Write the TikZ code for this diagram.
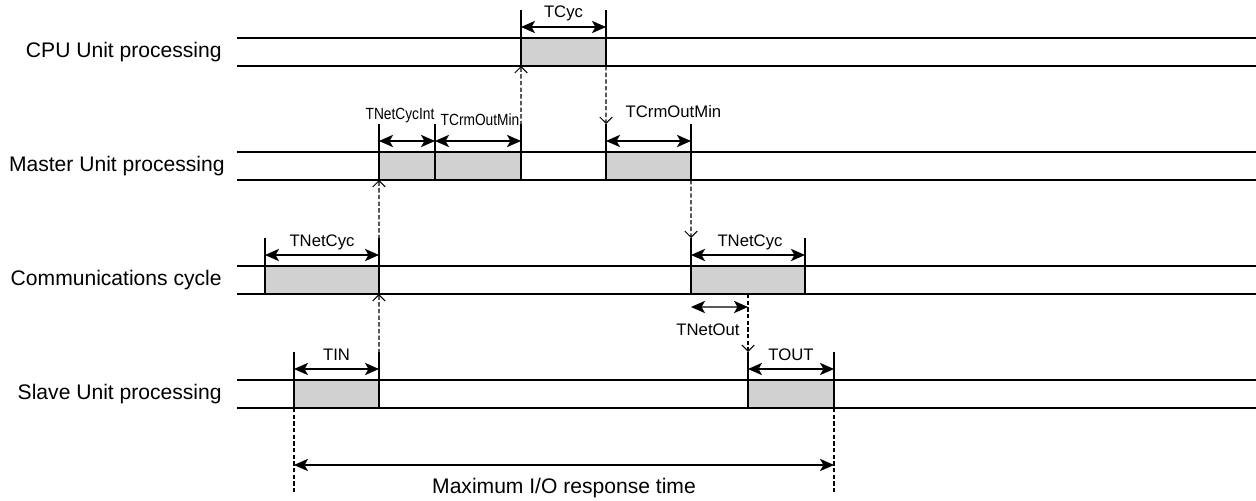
\documentclass[tikz,border=0pt]{standalone}
\usepackage{fontspec}
\setmainfont{Liberation Sans}
\usetikzlibrary{arrows.meta,positioning,calc}

\begin{document}
\begin{tikzpicture}[x=0.02cm,y=-0.02cm,>=Stealth,
    rowline/.style={line width=0.8pt},
    blk/.style={draw,line width=0.7pt,fill=black!18,inner sep=0pt,outer sep=0pt,
      minimum height=0.56cm,anchor=north west},
    tick/.style={line width=0.7pt},
    dim/.style={{Stealth[length=8pt,width=7pt,inset=2pt]}-{Stealth[length=8pt,width=7pt,inset=2pt]},line width=0.8pt},
    sig/.style={dash pattern=on 2.5pt off 1.3pt,line width=0.6pt,-{Straight Barb[length=3.5pt,width=7pt]}},
    vline/.style={dash pattern=on 2.5pt off 1.3pt,line width=0.6pt},
    rowlbl/.style={font=\fontsize{12}{14}\selectfont,anchor=east,inner sep=0pt},
    dlbl/.style={font=\fontsize{9.5}{11}\selectfont},
    slbl/.style={font=\fontsize{9.2}{10}\selectfont,xscale=0.85}]
    \useasboundingbox (0,0) rectangle (1256,500);

    % rows
    \foreach \y in {38,152,266,380} {
      \draw[rowline] (237,\y) -- (1256,\y);
      \draw[rowline] (237,\y+28) -- (1256,\y+28);
    }
    \node[rowlbl] (rcpu) at (222,52) {CPU Unit processing};
    \node[rowlbl] (rmst) at (225,166) {Master Unit processing};
    \node[rowlbl] (rcom) at (222,280) {Communications cycle};
    \node[rowlbl] (rslv) at (222,394) {Slave Unit processing};

    % processing blocks
    \node[blk,minimum width=1.7cm] (cpu) at (521,38) {};
    \node[blk,minimum width=1.12cm] (mint) at (379,152) {};
    \node[blk,minimum width=1.72cm] (mout) at (435,152) {};
    \node[blk,minimum width=1.7cm] (mcrm) at (606,152) {};
    \node[blk,minimum width=2.28cm] (cin) at (265,266) {};
    \node[blk,minimum width=2.28cm] (cout) at (691,266) {};
    \node[blk,minimum width=1.7cm] (sin) at (294,380) {};
    \node[blk,minimum width=1.72cm] (sout) at (748,380) {};

    % dimension marks above each block
    \foreach \b in {cpu,mint,mout,mcrm,cin,cout,sin,sout} {
      \draw[tick] (\b.north west) -- ++(0,-28);
      \draw[tick] (\b.north east) -- ++(0,-28);
      \draw[dim] ($(\b.north west)+(0,-11)$) -- ($(\b.north east)+(0,-11)$);
    }
    \node[dlbl] (tcyc) at ($(cpu.north)+(0,-25)$) {TCyc};
    \node[slbl] (tnci) at ($(mint.north)+(-7,-36)$) {TNetCycInt};
    \node[slbl] (tcrm1) at ($(mout.north)+(2,-32)$) {TCrmOutMin};
    \node[dlbl] (tcrm2) at ($(mcrm.north)+(25,-40)$) {TCrmOutMin};
    \node[dlbl] (tnc1) at ($(cin.north)+(0,-24)$) {TNetCyc};
    \node[dlbl] (tnc2) at ($(cout.north)+(2,-24)$) {TNetCyc};
    \node[dlbl] (tin) at ($(sin.north)+(0,-25)$) {TIN};
    \node[dlbl] (tout) at ($(sout.north)+(0,-25)$) {TOUT};

    % signal hand-over
    \draw[sig] (sin.north east) -- (cin.south east);
    \draw[sig] (cin.north east) -- (mint.south west);
    \draw[sig] (mout.north east) -- (cpu.south west);
    \draw[sig] (cpu.south east) -- ($(mcrm.north west)+(0,-28)$);
    \draw[sig] (mcrm.south east) -- ($(cout.north west)+(0,-28)$);
    \coordinate (nout) at (748,294);
    \draw[sig] (nout) -- ($(sout.north west)+(0,-28)$);

    % TNetOut
    \draw[dim] ($(cout.south west)+(0,13)$) -- ($(nout)+(0,13)$);
    \node[dlbl] (tnout) at ($(cout.south west)+(17,36)$) {TNetOut};

    % maximum response time
    \coordinate (maxl) at ($(sin.south west)+(0,84)$);
    \coordinate (maxr) at ($(sout.south east)+(0,84)$);
    \draw[vline] (sin.south west) -- (maxl);
    \draw[vline] (sout.south east) -- (maxr);
    \draw[dim] ($(maxl)+(0,-27)$) -- ($(maxr)+(0,-27)$);
    \node[font=\fontsize{12}{14}\selectfont] (maxlbl) at ($(maxl)!0.5!(maxr)+(0,-4)$) {Maximum I/O response time};
\end{tikzpicture}
\end{document}
